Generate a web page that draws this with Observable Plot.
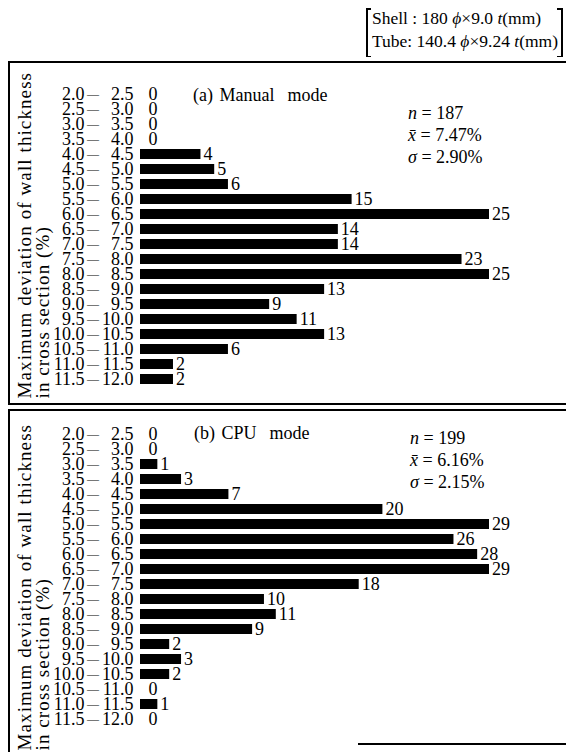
<!DOCTYPE html>
<html>
<head>
<meta charset="utf-8">
<script src="https://cdn.jsdelivr.net/npm/d3@7"></script>
<script src="https://cdn.jsdelivr.net/npm/@observablehq/plot@0.6"></script>
<style>
  body { margin: 0; background: #fff; }
  #page { position: relative; width: 566px; height: 752px; overflow: hidden; background: #fff;
          font-family: "Liberation Serif", "DejaVu Serif", serif; color: #000; }
  .abs { position: absolute; }
  .line { position: absolute; background: #000; }
  .spec { font-size: 17.5px; line-height: 23px; white-space: nowrap; }
  .ttl { font-size: 18px; line-height: 20px; white-space: pre; word-spacing: 2px; }
  .stats { font-size: 18px; line-height: 22px; white-space: nowrap; }
  .ytitle text { letter-spacing: 1.1px; }
  .panel svg { display: block; }
</style>
</head>
<body>
<div id="page"></div>
<script>
// Class intervals of the maximum wall-thickness deviation (%)
const binLow  = ["2.0","2.5","3.0","3.5","4.0","4.5","5.0","5.5","6.0","6.5",
                 "7.0","7.5","8.0","8.5","9.0","9.5","10.0","10.5","11.0","11.5"];
const binHigh = ["2.5","3.0","3.5","4.0","4.5","5.0","5.5","6.0","6.5","7.0",
                 "7.5","8.0","8.5","9.0","9.5","10.0","10.5","11.0","11.5","12.0"];

// Number of tubes in each interval
const manualCounts = [0,0,0,0,4,5,6,15,25,14,14,23,25,13,9,11,13,6,2,2];
const cpuCounts    = [0,0,1,3,7,20,29,26,28,29,18,10,11,9,2,3,2,0,1,0];

// Panel titles and summary statistics
const panelTitles = ["(a) Manual  mode", "(b) CPU  mode"];
const manualStats = { n: "187", mean: "7.47%", sd: "2.90%" };
const cpuStats    = { n: "199", mean: "6.16%", sd: "2.15%" };

const yTitle = "Maximum deviation of wall thickness\nin cross section (%)";
const fontFamily = '"Liberation Serif", "DejaVu Serif", serif';

const page = document.getElementById("page");

function el(html) {
  const t = document.createElement("template");
  t.innerHTML = html.trim();
  const node = t.content.firstChild;
  page.appendChild(node);
  return node;
}

function panel(counts, xMax, o) {
  const rows = binLow.map((lo, i) => ({ key: lo, lo, hi: binHigh[i], n: counts[i] }));
  return Plot.plot({
    width: 566,
    height: o.height,
    marginLeft: 145.5,
    marginRight: 77,
    marginTop: o.mt,
    marginBottom: o.mb,
    x: { domain: [0, xMax], axis: null },
    y: { type: "band", domain: binLow, axis: null, paddingInner: 0.35, paddingOuter: 0 },
    style: { fontFamily, fontSize: "18px", color: "#000", background: "transparent", overflow: "visible" },
    marks: [
      Plot.barX(rows.filter(d => d.n > 0), { x: "n", y: "key", fill: "#000", insetLeft: -5.5 }),
      Plot.text(rows, { x: "n", y: "key", text: d => String(d.n), textAnchor: "start", dx: 2.5, fontSize: 18, fill: "#000" }),
      Plot.text(rows, { y: "key", frameAnchor: "left", text: "lo", textAnchor: "end", dx: -61.5, fontSize: 18, fill: "#000" }),
      Plot.text(rows, { y: "key", frameAnchor: "left", text: () => "—", textAnchor: "middle", dx: -53, fontSize: 12, fill: "#000" }),
      Plot.text(rows, { y: "key", frameAnchor: "left", text: "hi", textAnchor: "end", dx: -12.5, fontSize: 18, fill: "#000" }),
      Plot.text([yTitle], {
        frameAnchor: "bottom-left", text: d => d, rotate: -90,
        textAnchor: "start", lineAnchor: "top", lineHeight: 0.92,
        dx: -127, dy: o.titleDy, fontSize: 19, fill: "#000", className: "ytitle"
      })
    ]
  });
}

// Specification header with square brackets
el(`<div class="abs spec" style="left:372px;top:7px;">Shell : 180 <i>ϕ</i>×9.0 <i>t</i>(mm)<br>Tube: 140.4 <i>ϕ</i>×9.24 <i>t</i>(mm)</div>`);
el(`<div class="line" style="left:366px;top:8px;width:1.5px;height:49px;"></div>`);
el(`<div class="line" style="left:366px;top:8px;width:5px;height:1.5px;"></div>`);
el(`<div class="line" style="left:366px;top:55.5px;width:5px;height:1.5px;"></div>`);
el(`<div class="line" style="left:561px;top:8px;width:1.5px;height:49px;"></div>`);
el(`<div class="line" style="left:557px;top:8px;width:5px;height:1.5px;"></div>`);
el(`<div class="line" style="left:557px;top:55.5px;width:5px;height:1.5px;"></div>`);

// Panel (a)
const pa = el(`<div class="abs panel" style="left:0;top:61px;"></div>`);
pa.appendChild(panel(manualCounts, 25, { height: 344, mt: 23, mb: 17, titleDy: 10 }));

// Panel (b)
const pb = el(`<div class="abs panel" style="left:0;top:410px;"></div>`);
pb.appendChild(panel(cpuCounts, 29, { height: 342, mt: 15, mb: 25, titleDy: 23 }));

// Panel frames
el(`<div class="line" style="left:8px;top:61px;width:560px;height:2px;"></div>`);
el(`<div class="line" style="left:8px;top:61px;width:2px;height:344px;"></div>`);
el(`<div class="line" style="left:8px;top:403px;width:560px;height:2px;"></div>`);
el(`<div class="line" style="left:8px;top:408.5px;width:560px;height:2px;"></div>`);
el(`<div class="line" style="left:8px;top:408.5px;width:2px;height:344px;"></div>`);
el(`<div class="line" style="left:358px;top:743px;width:210px;height:1.5px;"></div>`);

// Titles and statistics
el(`<div class="abs ttl" style="left:193px;top:85px;">${panelTitles[0]}</div>`);
el(`<div class="abs ttl" style="left:194px;top:423px;">${panelTitles[1]}</div>`);
el(`<div class="abs stats" style="left:408px;top:102px;"><i>n</i> = ${manualStats.n}<br><i>x̄</i> = ${manualStats.mean}<br><i>σ</i> = ${manualStats.sd}</div>`);
el(`<div class="abs stats" style="left:410px;top:427px;"><i>n</i> = ${cpuStats.n}<br><i>x̄</i> = ${cpuStats.mean}<br><i>σ</i> = ${cpuStats.sd}</div>`);
</script>
</body>
</html>
